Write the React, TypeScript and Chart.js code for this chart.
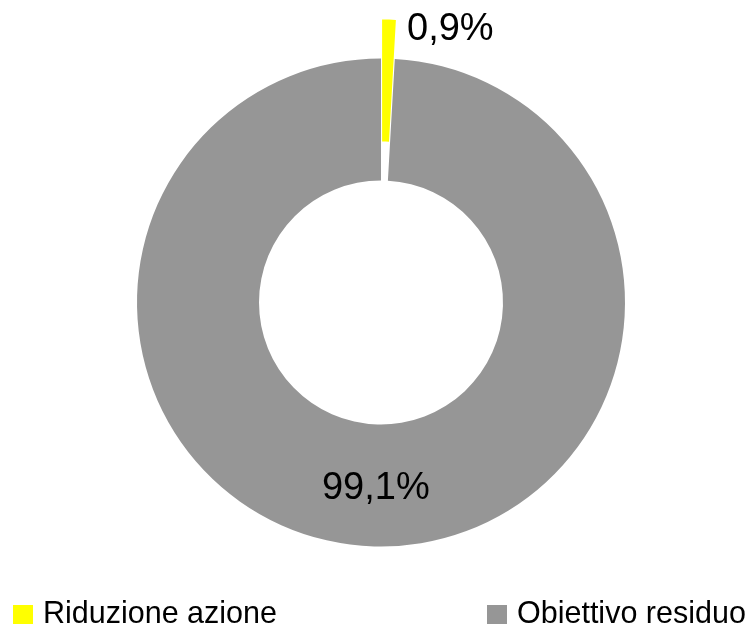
import React, { useEffect, useRef } from "react";
import { Chart, registerables } from "chart.js";

Chart.register(...registerables);

const categories = ["Riduzione azione", "Obiettivo residuo"];
const values = [0.9, 99.1];
const valueLabels = ["0,9%", "99,1%"];
const colors = ["#FFFF00", "#969696"];
const explode = [39, 0];

const FONT = "'Liberation Sans', Arial, Helvetica, sans-serif";

export default function App() {
  const ref = useRef<HTMLCanvasElement | null>(null);

  useEffect(() => {
    if (!ref.current) return;

    const explodePlugin = {
      id: "explodeSlices",
      afterDatasetsUpdate(chart: any) {
        const meta = chart.getDatasetMeta(0);
        meta.data.forEach((arc: any, i: number) => {
          const d = explode[i] || 0;
          if (!d) return;
          const mid = (arc.startAngle + arc.endAngle) / 2;
          arc.x += Math.cos(mid) * d;
          arc.y += Math.sin(mid) * d;
        });
      },
    };

    const labelPlugin = {
      id: "customLabels",
      afterDraw(chart: any) {
        const ctx = chart.ctx as CanvasRenderingContext2D;
        const meta = chart.getDatasetMeta(0);
        ctx.save();
        ctx.fillStyle = "#000000";
        ctx.font = `38px ${FONT}`;
        ctx.textBaseline = "alphabetic";
        meta.data.forEach((arc: any, i: number) => {
          const p = arc.getProps(
            ["x", "y", "startAngle", "endAngle", "innerRadius", "outerRadius"],
            true
          );
          const mid = (p.startAngle + p.endAngle) / 2;
          if (i === 0) {
            const r = p.outerRadius;
            const px = p.x + Math.cos(mid) * r;
            const py = p.y + Math.sin(mid) * r;
            ctx.textAlign = "left";
            ctx.fillText(valueLabels[i], px + 18, py + 20);
          } else {
            const r = (p.innerRadius + p.outerRadius) / 2;
            const px = p.x + Math.cos(mid) * r;
            const py = p.y + Math.sin(mid) * r;
            ctx.textAlign = "center";
            ctx.fillText(valueLabels[i], px, py + 38 * 0.358);
          }
        });

        // legend
        ctx.font = `30.5px ${FONT}`;
        ctx.textAlign = "left";
        const legendX = [13, 487];
        categories.forEach((c, i) => {
          ctx.fillStyle = colors[i];
          ctx.fillRect(legendX[i], 605, 20, 19);
          ctx.fillStyle = "#000000";
          ctx.fillText(c, legendX[i] + 30, 623);
        });
        ctx.restore();
      },
    };

    const chart = new Chart(ref.current, {
      type: "doughnut",
      data: {
        labels: categories,
        datasets: [
          {
            data: values,
            backgroundColor: colors,
            borderWidth: 0,
          },
        ],
      },
      options: {
        responsive: false,
        animation: false,
        radius: 244,
        cutout: "50%",
        layout: { padding: { left: 8, right: 0, top: 0, bottom: 25 } },
        plugins: {
          legend: { display: false },
          tooltip: { enabled: false },
        },
      } as any,
      plugins: [explodePlugin, labelPlugin],
    });
    return () => chart.destroy();
  }, []);

  return (
    <div style={{ position: "absolute", left: 0, top: 0, width: 754, height: 630, background: "#fff" }}>
      <canvas ref={ref} width={754} height={630} style={{ display: "block" }} />
    </div>
  );
}
